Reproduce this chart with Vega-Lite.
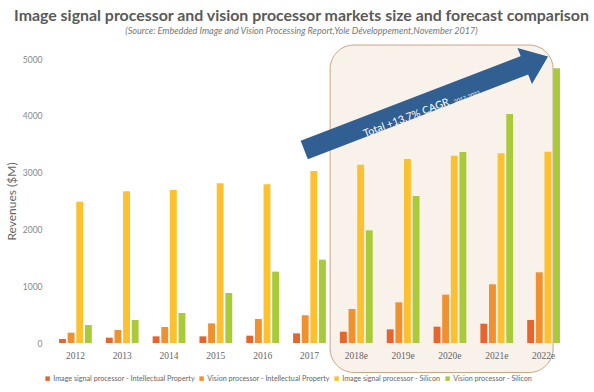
{
  "$schema": "https://vega.github.io/schema/vega-lite/v6.json",
  "width": 515,
  "height": 284,
  "autosize": "none",
  "padding": {"left": 52, "top": 59, "right": 27, "bottom": 49},
  "background": "white",
  "config": {
    "view": {"stroke": null},
    "font": "Lato",
    "axisY": {"title": "Revenues ($M)", "tickCount": 10, "format": "d", "labelOverlap": false, "ticks": false, "domain": false, "gridColor": "#E3E3E3", "labelFontSize": 8.5, "labelColor": "#888888", "labelPadding": 10, "titleFontSize": 12, "titleFontWeight": "normal", "titleColor": "#666666", "titlePadding": 4},
    "axisX": {"labelAngle": 0, "ticks": false, "domain": false, "grid": false, "labelFont": "Liberation Serif", "labelFontSize": 9.5, "labelColor": "#666666", "labelPadding": 7}
  },
  "title": {
    "text": "Image signal processor and vision processor markets size and forecast comparison",
    "subtitle": "(Source: Embedded Image and Vision Processing Report,Yole Développement,November 2017)",
    "anchor": "middle",
    "dx": -8,
    "offset": 8,
    "font": "Lato",
    "fontSize": 15.9,
    "fontWeight": "bold",
    "color": "#5a5a5a",
    "subtitleFont": "Lato",
    "subtitleFontSize": 9.1,
    "subtitleFontStyle": "italic",
    "subtitleColor": "#777777",
    "subtitlePadding": 4
  },
  "datasets": {
    "bars": [
      {"year": "2012", "Image signal processor - Intellectual Property": 70, "Vision processor - Intellectual Property": 182, "Image signal processor - Silicon": 2488, "Vision processor - Silicon": 317},
      {"year": "2013", "Image signal processor - Intellectual Property": 94, "Vision processor - Intellectual Property": 229, "Image signal processor - Silicon": 2672, "Vision processor - Silicon": 405},
      {"year": "2014", "Image signal processor - Intellectual Property": 117, "Vision processor - Intellectual Property": 282, "Image signal processor - Silicon": 2692, "Vision processor - Silicon": 528},
      {"year": "2015", "Image signal processor - Intellectual Property": 117, "Vision processor - Intellectual Property": 346, "Image signal processor - Silicon": 2814, "Vision processor - Silicon": 880},
      {"year": "2016", "Image signal processor - Intellectual Property": 129, "Vision processor - Intellectual Property": 423, "Image signal processor - Silicon": 2796, "Vision processor - Silicon": 1256},
      {"year": "2017", "Image signal processor - Intellectual Property": 170, "Vision processor - Intellectual Property": 487, "Image signal processor - Silicon": 3028, "Vision processor - Silicon": 1467},
      {"year": "2018e", "Image signal processor - Intellectual Property": 199, "Vision processor - Intellectual Property": 599, "Image signal processor - Silicon": 3140, "Vision processor - Silicon": 1984},
      {"year": "2019e", "Image signal processor - Intellectual Property": 240, "Vision processor - Intellectual Property": 716, "Image signal processor - Silicon": 3239, "Vision processor - Silicon": 2588},
      {"year": "2020e", "Image signal processor - Intellectual Property": 287, "Vision processor - Intellectual Property": 851, "Image signal processor - Silicon": 3298, "Vision processor - Silicon": 3363},
      {"year": "2021e", "Image signal processor - Intellectual Property": 340, "Vision processor - Intellectual Property": 1033, "Image signal processor - Silicon": 3340, "Vision processor - Silicon": 4032},
      {"year": "2022e", "Image signal processor - Intellectual Property": 405, "Vision processor - Intellectual Property": 1245, "Image signal processor - Silicon": 3368, "Vision processor - Silicon": 4836}
    ],
    "one": [{"k": 1}]
  },
  "layer": [
    {
      "data": {"name": "one"},
      "mark": {"type": "rect", "cornerRadius": 24, "fill": "#EBD3BD", "fillOpacity": 0.3, "stroke": "#C9A587", "strokeWidth": 1},
      "encoding": {
        "x": {"datum": "2018e", "bandPosition": -0.3, "type": "nominal"},
        "x2": {"datum": "2022e", "bandPosition": 0.79},
        "y": {"datum": 5246, "type": "quantitative"},
        "y2": {"datum": -520}
      }
    },
    {
      "data": {"name": "bars"},
      "transform": [
        {"fold": ["Image signal processor - Intellectual Property", "Vision processor - Intellectual Property", "Image signal processor - Silicon", "Vision processor - Silicon"], "as": ["series", "value"]}
      ],
      "mark": {"type": "bar"},
      "encoding": {
        "x": {
          "field": "year", "type": "nominal",
          "scale": {"paddingInner": 0.3, "paddingOuter": 0.15},
          "axis": {"title": null}
        },
        "xOffset": {
          "field": "series", "type": "nominal",
          "sort": ["Image signal processor - Intellectual Property", "Vision processor - Intellectual Property", "Image signal processor - Silicon", "Vision processor - Silicon"],
          "scale": {"paddingInner": 0.2}
        },
        "y": {
          "field": "value", "type": "quantitative",
          "scale": {"domain": [0, 5000], "nice": false},
          "axis": {"title": "Revenues ($M)", "values": [0, 500, 1000, 1500, 2000, 2500, 3000, 3500, 4000, 4500, 5000]}
        },
        "color": {
          "field": "series", "type": "nominal",
          "sort": ["Image signal processor - Intellectual Property", "Vision processor - Intellectual Property", "Image signal processor - Silicon", "Vision processor - Silicon"],
          "scale": {"range": ["#E4652E", "#F0902F", "#FDC02F", "#A9CB3A"]},
          "legend": {"title": null, "orient": "none", "legendX": -8, "legendY": 316, "direction": "horizontal", "gridAlign": "none", "symbolType": "square", "symbolSize": 20, "labelFontSize": 7.2, "labelColor": "#666666", "columnPadding": 3, "labelOffset": 2}
        }
      }
    },
    {
      "data": {"name": "one"},
      "mark": {"type": "rule", "strokeWidth": 20, "color": "#325F91", "strokeCap": "butt"},
      "encoding": {
        "x": {"datum": "2017", "bandPosition": 0.34, "type": "nominal"},
        "y": {"datum": 3398, "type": "quantitative"},
        "x2": {"datum": "2022e", "bandPosition": 0.1},
        "y2": {"datum": 4930}
      }
    },
    {
      "data": {"name": "one"},
      "mark": {"type": "point", "shape": "M -0.65 -1 L 0.65 0 L -0.65 1 Z", "size": 1500, "filled": true, "opacity": 1, "color": "#325F91", "angle": -22},
      "encoding": {
        "x": {"datum": "2022e", "bandPosition": 0.28, "type": "nominal"},
        "y": {"datum": 4960, "type": "quantitative"}
      }
    },
    {
      "data": {"name": "one"},
      "mark": {"type": "text", "text": "Total +13.7% CAGR", "angle": -21, "fontSize": 10.5, "color": "white", "align": "center", "baseline": "middle"},
      "encoding": {
        "x": {"datum": "2019e", "bandPosition": 0.6, "type": "nominal"},
        "y": {"datum": 3960, "type": "quantitative"}
      }
    },
    {
      "data": {"name": "one"},
      "mark": {"type": "text", "text": "2017-2022", "angle": -21, "fontSize": 5.5, "color": "white", "align": "center", "baseline": "middle"},
      "encoding": {
        "x": {"datum": "2020e", "bandPosition": 1.02, "type": "nominal"},
        "y": {"datum": 4330, "type": "quantitative"}
      }
    }
  ]
}
